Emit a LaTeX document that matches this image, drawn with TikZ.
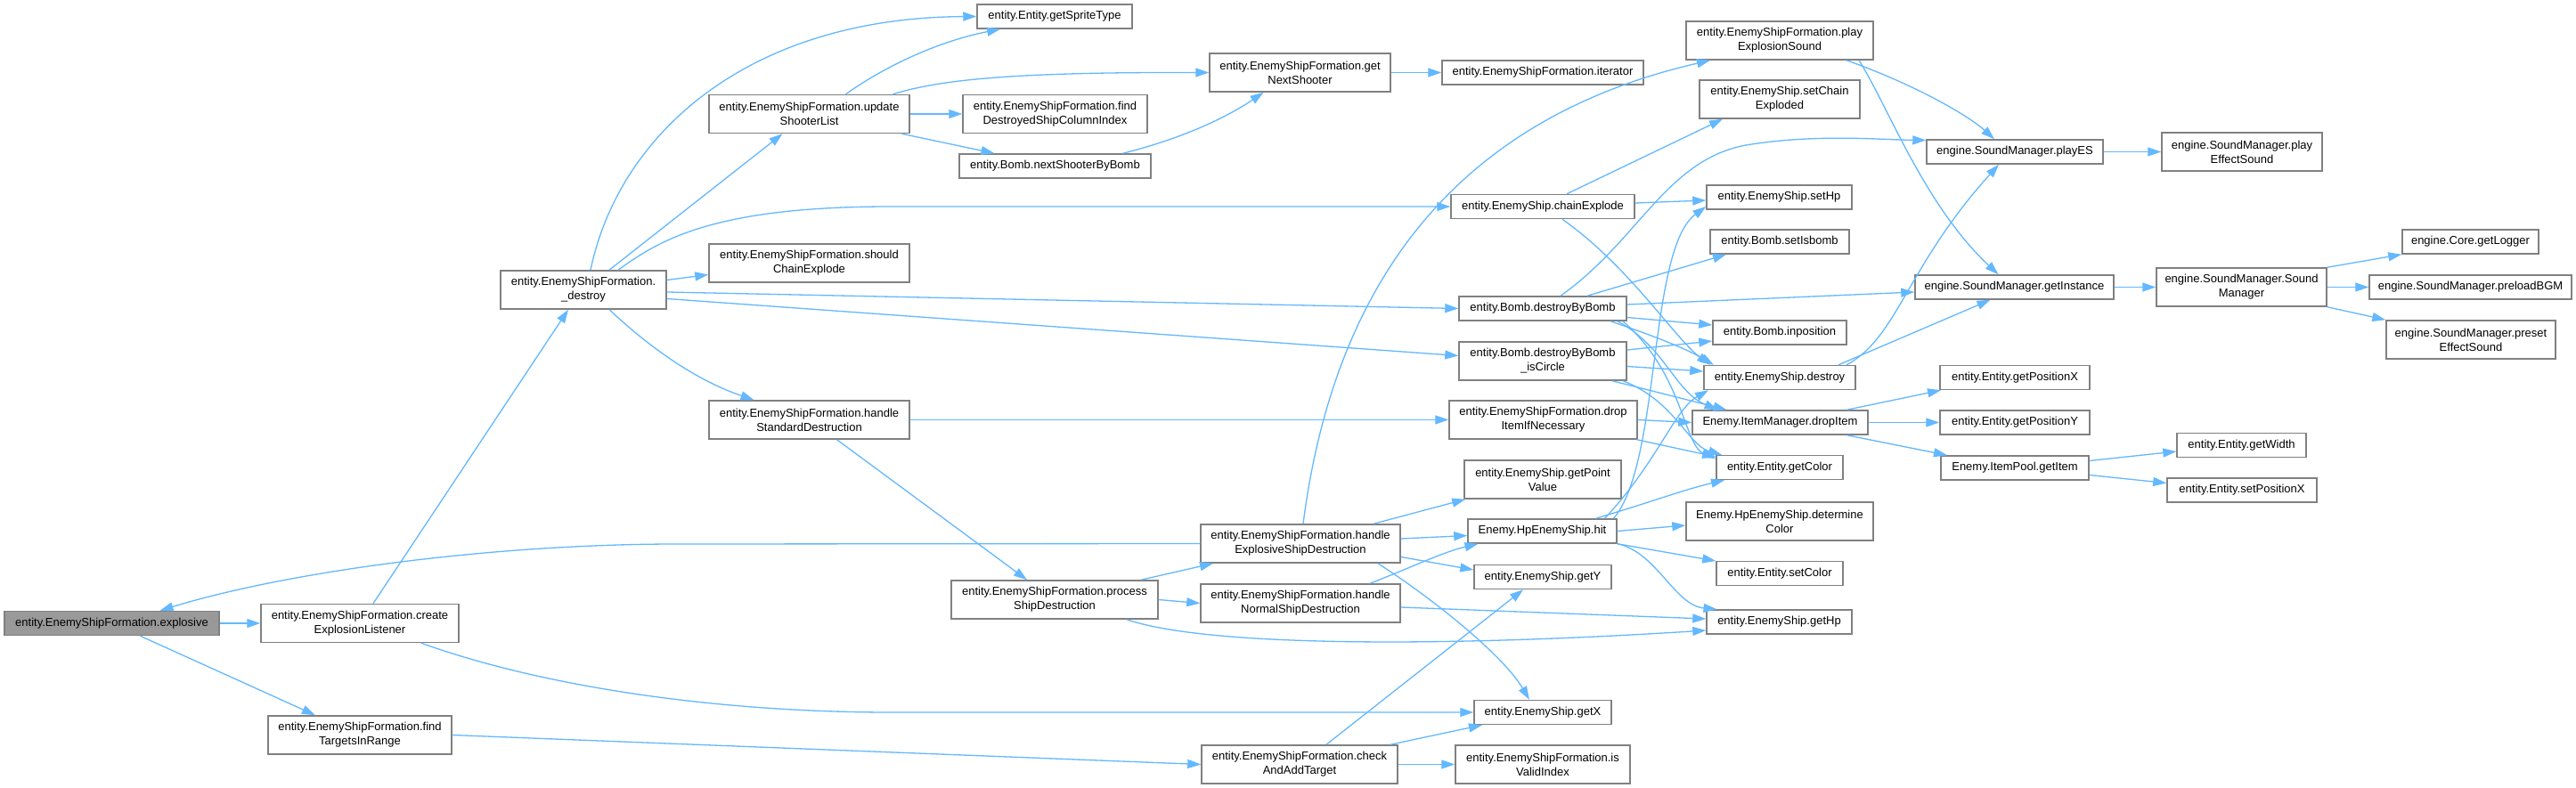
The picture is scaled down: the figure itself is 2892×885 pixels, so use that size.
\documentclass[tikz,border=0pt]{standalone}
\usepackage{fontspec}
\setmainfont{Liberation Sans}
\usetikzlibrary{arrows.meta}
\definecolor{edgeblue}{HTML}{63B8FF}
\definecolor{boxline}{HTML}{808080}
\definecolor{rootfill}{HTML}{999999}

\begin{document}
\begin{tikzpicture}[x=1pt,y=-1pt,
  fn/.style={draw=boxline, line width=1.5pt, fill=white, font=\fontsize{13}{16}\selectfont,
    align=center, inner sep=0pt, minimum height=27pt},
  fnn/.style={fn, minimum height=43pt},
  wd/.style={minimum width=#1},
  call/.style={draw=edgeblue, line width=1.3pt, -{Triangle[length=15pt,width=10pt]}}]
\fill[white] (0,0) rectangle (2892,885);
\useasboundingbox (0,0) rectangle (2892,885);

\node[fn, fill=rootfill, wd=241pt] (explosive) at (125.5,700) {entity.EnemyShipFormation.explosive};
\node[fnn, wd=222pt] (createListener) at (404,700) {entity.EnemyShipFormation.create\\ExplosionListener};
\node[fnn, wd=206pt] (findTargets) at (404,825.5) {entity.EnemyShipFormation.find\\TargetsInRange};
\node[fnn, wd=186pt] (fdestroy) at (655,325.5) {entity.EnemyShipFormation.\\\_destroy};
\node[fnn, wd=225pt] (updateShooter) at (908.5,128) {entity.EnemyShipFormation.update\\ShooterList};
\node[fnn, wd=225pt] (shouldChain) at (908.5,295.5) {entity.EnemyShipFormation.should\\ChainExplode};
\node[fnn, wd=225pt] (handleStd) at (908.5,471.5) {entity.EnemyShipFormation.handle\\StandardDestruction};
\node[fnn, wd=232pt] (processShip) at (1184,673.5) {entity.EnemyShipFormation.process\\ShipDestruction};
\node[fn, wd=174pt] (spriteType) at (1184,18.5) {entity.Entity.getSpriteType};
\node[fnn, wd=207pt] (findColumn) at (1184.5,128) {entity.EnemyShipFormation.find\\DestroyedShipColumnIndex};
\node[fn, wd=215pt] (nextByBomb) at (1184.5,186.5) {entity.Bomb.nextShooterByBomb};
\node[fnn, wd=203pt] (nextShooter) at (1459.5,81.5) {entity.EnemyShipFormation.get\\NextShooter};
\node[fnn, wd=224pt] (handleExpl) at (1460,610.5) {entity.EnemyShipFormation.handle\\ExplosiveShipDestruction};
\node[fnn, wd=224pt] (handleNorm) at (1460,677.5) {entity.EnemyShipFormation.handle\\NormalShipDestruction};
\node[fnn, wd=220pt] (checkAdd) at (1459,858.5) {entity.EnemyShipFormation.check\\AndAddTarget};
\node[fn, wd=226pt] (iterator) at (1732,81.5) {entity.EnemyShipFormation.iterator};
\node[fn, wd=206pt] (chainExplode) at (1732,232) {entity.EnemyShip.chainExplode};
\node[fn, wd=188pt] (byBomb) at (1732,346.5) {entity.Bomb.destroyByBomb};
\node[fnn, wd=188pt] (byBombCircle) at (1732,405.5) {entity.Bomb.destroyByBomb\\\_isCircle};
\node[fnn, wd=211pt] (dropIfNec) at (1732.5,471.5) {entity.EnemyShipFormation.drop\\ItemIfNecessary};
\node[fnn, wd=176pt] (pointValue) at (1732,538.5) {entity.EnemyShip.getPoint\\Value};
\node[fn, wd=167pt] (hpHit) at (1731.5,596.5) {Enemy.HpEnemyShip.hit};
\node[fn, wd=154pt] (getY) at (1732,648) {entity.EnemyShip.getY};
\node[fn, wd=154pt] (getX) at (1732,800) {entity.EnemyShip.getX};
\node[fnn, wd=196pt] (validIndex) at (1732,858.5) {entity.EnemyShipFormation.is\\ValidIndex};
\node[fnn, wd=210pt] (playExpl) at (1998,45.5) {entity.EnemyShipFormation.play\\ExplosionSound};
\node[fnn, wd=180pt] (setChain) at (1998,111.5) {entity.EnemyShip.setChain\\Exploded};
\node[fn, wd=163pt] (setHp) at (1997.5,221.5) {entity.EnemyShip.setHp};
\node[fn, wd=156pt] (setIsbomb) at (1998,271.5) {entity.Bomb.setIsbomb};
\node[fn, wd=150pt] (inposition) at (1998,373.5) {entity.Bomb.inposition};
\node[fn, wd=170pt] (shipDestroy) at (1998,424) {entity.EnemyShip.destroy};
\node[fn, wd=197pt] (dropItem) at (1998.5,474.5) {Enemy.ItemManager.dropItem};
\node[fn, wd=142pt] (getColor) at (1998,525) {entity.Entity.getColor};
\node[fnn, wd=210pt] (detColor) at (1998,585.5) {Enemy.HpEnemyShip.determine\\Color};
\node[fn, wd=142pt] (setColor) at (1998,644) {entity.Entity.setColor};
\node[fn, wd=163pt] (getHp) at (1997.5,698.5) {entity.EnemyShip.getHp};
\node[fn, wd=198pt] (playES) at (2262,170.5) {engine.SoundManager.playES};
\node[fn, wd=223pt] (getInstance) at (2261.5,322.5) {engine.SoundManager.getInstance};
\node[fn, wd=168pt] (getPosX) at (2262,424) {entity.Entity.getPositionX};
\node[fn, wd=168pt] (getPosY) at (2262,474.5) {entity.Entity.getPositionY};
\node[fn, wd=166pt] (getItem) at (2262,525.5) {Enemy.ItemPool.getItem};
\node[fnn, wd=180pt] (playEffect) at (2517,170.5) {engine.SoundManager.play\\EffectSound};
\node[fnn, wd=191pt] (soundMgr) at (2516.5,322.5) {engine.SoundManager.Sound\\Manager};
\node[fn, wd=145pt] (getWidth) at (2516.5,500) {entity.Entity.getWidth};
\node[fn, wd=168pt] (setPosX) at (2517,550.5) {entity.Entity.setPositionX};
\node[fn, wd=153pt] (getLogger) at (2773.5,271.5) {engine.Core.getLogger};
\node[fn, wd=227pt] (preloadBGM) at (2773.5,322.5) {engine.SoundManager.preloadBGM};
\node[fnn, wd=190pt] (presetSound) at (2774,381.5) {engine.SoundManager.preset\\EffectSound};

\draw[call] (explosive.east) -- (createListener.west);
\draw[call] ([xshift=32pt]explosive.south) -- ([xshift=-50pt]findTargets.north);
\draw[call] (handleExpl.west) -- (760,611) .. controls (560,611) and (330,640) .. ([xshift=54pt]explosive.north);
\draw[call] ([xshift=15pt]createListener.north) -- ([xshift=-17pt]fdestroy.south);
\draw[call] ([xshift=69pt]createListener.south) .. controls (620,775) and (820,800) .. (1000,800) -- (getX.west);
\draw[call] (findTargets.east) -- (checkAdd.west);

\draw[call] ([xshift=8pt]fdestroy.north) .. controls (695,150) and (840,20) .. (spriteType.west);
\draw[call] ([xshift=29pt]fdestroy.north) -- ([xshift=-30pt]updateShooter.south);
\draw[call] ([yshift=11pt]fdestroy.east) -- ([yshift=-13pt]shouldChain.west);
\draw[call] ([xshift=39pt]fdestroy.north) .. controls (740,270) and (800,232) .. (1000,232) -- (chainExplode.west);
\draw[call] ([yshift=-2.5pt]fdestroy.east) -- (byBomb.west);
\draw[call] ([yshift=-10pt]fdestroy.east) -- ([yshift=6pt]byBombCircle.west);
\draw[call] ([xshift=29pt]fdestroy.south) .. controls (740,400) and (790,430) .. ([xshift=-62pt]handleStd.north);

\draw[call] ([xshift=41pt]updateShooter.north) .. controls (1000,70) and (1060,45) .. ([xshift=-61pt]spriteType.south);
\draw[call] ([xshift=94pt]updateShooter.north) .. controls (1060,88) and (1150,81) .. (nextShooter.west);
\draw[call] (updateShooter.east) -- (findColumn.west);
\draw[call] ([xshift=104pt]updateShooter.south) -- ([xshift=-68pt]nextByBomb.north);
\draw[call] ([xshift=76pt]nextByBomb.north) .. controls (1330,155) and (1380,130) .. ([xshift=-41pt]nextShooter.south);
\draw[call] (nextShooter.east) -- (iterator.west);

\draw[call] (handleStd.east) -- (dropIfNec.west);
\draw[call] ([xshift=31pt]handleStd.south) -- ([xshift=-31pt]processShip.north);
\draw[call] ([xshift=97pt]processShip.north) -- ([xshift=-98pt]handleExpl.south);
\draw[call] (processShip.east) -- (handleNorm.west);
\draw[call] ([xshift=81pt]processShip.south) .. controls (1350,725) and (1600,728) .. ([yshift=-9.5pt]getHp.west);

\draw[call] ([xshift=3pt]handleExpl.north) .. controls (1500,300) and (1650,130) .. ([xshift=-78pt]playExpl.south);
\draw[call] ([xshift=82pt]handleExpl.north) -- ([xshift=2pt]pointValue.south west);
\draw[call] ([yshift=5.5pt]handleExpl.east) -- ([yshift=-5pt]hpHit.west);
\draw[call] ([yshift=-15pt]handleExpl.east) -- ([yshift=8pt]getY.west);
\draw[call] ([xshift=87pt]handleExpl.south) .. controls (1620,680) and (1690,740) .. ([xshift=-15pt]getX.north);
\draw[call] ([xshift=78pt]handleNorm.north) .. controls (1590,635) and (1620,620) .. ([xshift=-72pt]hpHit.south);
\draw[call] ([yshift=-4.5pt]handleNorm.east) -- ([yshift=3.5pt]getHp.west);
\draw[call] ([xshift=30pt]checkAdd.north) -- ([xshift=-22pt]getY.south);
\draw[call] ([xshift=102pt]checkAdd.north) -- ([xshift=-68pt]getX.south);
\draw[call] (checkAdd.east) -- (validIndex.west);

\draw[call] ([xshift=27pt]chainExplode.north) -- ([xshift=-64pt]setChain.south);
\draw[call] ([yshift=4pt]chainExplode.east) -- ([yshift=-3.5pt]setHp.west);
\draw[call] ([xshift=22pt]chainExplode.south) .. controls (1830,300) and (1880,380) .. ([xshift=-78pt]shipDestroy.north);

\draw[call] ([xshift=20pt]byBomb.north) .. controls (1840,270) and (1870,180) .. (1960,163) .. controls (2040,150) and (2110,157) .. ([yshift=13pt]playES.west);
\draw[call] ([xshift=50pt]byBomb.north) -- ([xshift=-60pt]setIsbomb.south);
\draw[call] ([yshift=4.5pt]byBomb.east) -- ([yshift=-5.5pt]getInstance.west);
\draw[call] ([yshift=-10pt]byBomb.east) -- ([yshift=8.5pt]inposition.west);
\draw[call] ([xshift=76pt]byBomb.south) .. controls (1850,375) and (1890,390) .. ([xshift=-74pt]shipDestroy.north);
\draw[call] ([xshift=84pt]byBomb.south) .. controls (1870,390) and (1880,440) .. ([xshift=-70pt]dropItem.north);
\draw[call] ([xshift=90pt]byBomb.south) .. controls (1890,420) and (1890,500) .. ([yshift=10pt]getColor.west);

\draw[call] ([yshift=12.5pt]byBombCircle.east) -- ([yshift=-9.5pt]inposition.west);
\draw[call] ([yshift=-6pt]byBombCircle.east) -- ([yshift=7pt]shipDestroy.west);
\draw[call] ([xshift=78pt]byBombCircle.south) -- ([xshift=-60pt]dropItem.north);
\draw[call] ([xshift=90pt]byBombCircle.south) .. controls (1880,450) and (1895,500) .. ([xshift=-65pt]getColor.north);
\draw[call] (dropIfNec.east) -- (dropItem.west);
\draw[call] ([xshift=105pt]dropIfNec.south) -- ([yshift=12pt]getColor.west);

\draw[call] ([xshift=80pt]hpHit.north) .. controls (1865,520) and (1850,280) .. ([yshift=-10.5pt]setHp.west);
\draw[call] ([xshift=70pt]hpHit.north) .. controls (1860,520) and (1880,460) .. ([xshift=-80pt]shipDestroy.south);
\draw[call] ([xshift=60pt]hpHit.north) .. controls (1850,565) and (1890,550) .. ([xshift=-62pt]getColor.south);
\draw[call] (hpHit.east) -- ([yshift=-4.5pt]detColor.west);
\draw[call] (hpHit.south east) -- ([yshift=14pt]setColor.west);
\draw[call] (hpHit.south east) .. controls (1860,620) and (1880,680) .. ([xshift=-70pt]getHp.north);

\draw[call] ([xshift=75pt]playExpl.south) .. controls (2150,95) and (2210,130) .. ([xshift=-23pt]playES.north);
\draw[call] ([xshift=89pt]playExpl.south) .. controls (2120,120) and (2160,230) .. ([xshift=-18pt]getInstance.north);
\draw[call] ([xshift=75pt]shipDestroy.north) .. controls (2130,380) and (2140,300) .. ([xshift=-18pt]playES.south);
\draw[call] ([xshift=66pt]shipDestroy.north) -- ([xshift=-27pt]getInstance.south);
\draw[call] ([xshift=75pt]dropItem.north) -- ([xshift=-83pt]getPosX.south);
\draw[call] (dropItem.east) -- (getPosY.west);
\draw[call] ([xshift=75pt]dropItem.south) -- ([xshift=-76pt]getItem.north);

\draw[call] (getInstance.east) -- (soundMgr.west);
\draw[call] (playES.east) -- (playEffect.west);
\draw[call] (soundMgr.north east) -- (getLogger.south west);
\draw[call] (soundMgr.east) -- (preloadBGM.west);
\draw[call] (soundMgr.south east) -- (presetSound.north west);
\draw[call] ([yshift=8pt]getItem.east) -- ([yshift=-7pt]getWidth.west);
\draw[call] ([yshift=-8pt]getItem.east) -- ([yshift=8pt]setPosX.west);
\end{tikzpicture}
\end{document}
